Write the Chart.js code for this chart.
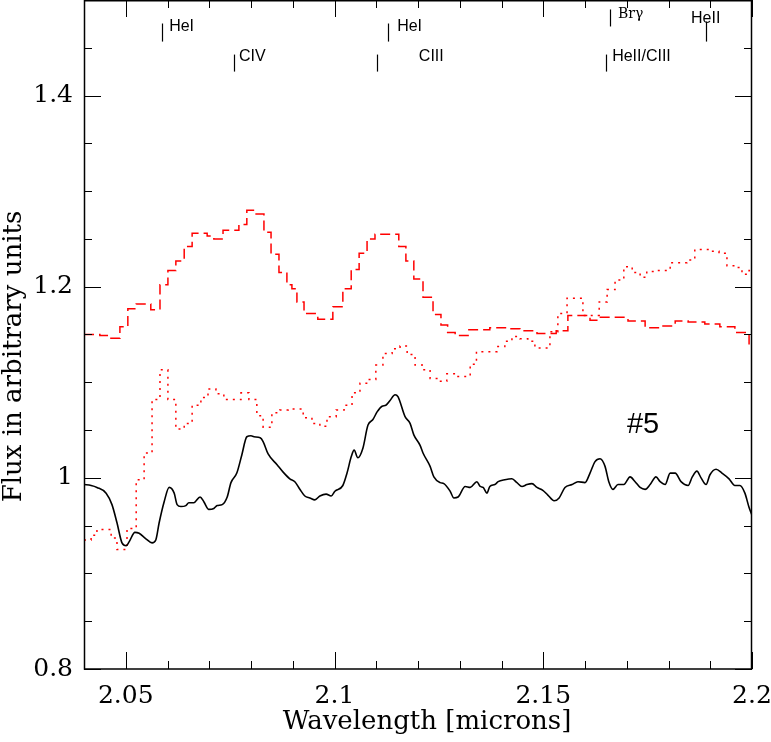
<!DOCTYPE html>
<html lang="en">
<head>
<meta charset="UTF-8">
<title>Flux #5</title>
<script src="https://cdn.jsdelivr.net/npm/chart.js"></script>
<style>
  html, body { margin: 0; padding: 0; background: #fff; }
</style>
</head>
<body>
<canvas id="myChart" width="771" height="742"></canvas>
<script>
// observed spectrum (black solid)
const waveObs = [2.0400, 2.0417, 2.0431, 2.0453, 2.0467, 2.0479, 2.0491, 2.0501, 2.0508, 2.0522,
  2.0532, 2.0549, 2.0563, 2.0572, 2.0580, 2.0592, 2.0604, 2.0616, 2.0623, 2.0632,
  2.0644, 2.0651, 2.0663, 2.0678, 2.0687, 2.0699, 2.0711, 2.0719, 2.0731, 2.0743,
  2.0752, 2.0766, 2.0778, 2.0790, 2.0800, 2.0807, 2.0822, 2.0829, 2.0841, 2.0862,
  2.0877, 2.0893, 2.0905, 2.0917, 2.0929, 2.0941, 2.0953, 2.0965, 2.0980, 2.0992,
  2.1001, 2.1020, 2.1030, 2.1040, 2.1047, 2.1056, 2.1068, 2.1080, 2.1092, 2.1102,
  2.1114, 2.1123, 2.1133, 2.1145, 2.1152, 2.1169, 2.1181, 2.1190, 2.1205, 2.1212,
  2.1229, 2.1238, 2.1253, 2.1262, 2.1277, 2.1286, 2.1296, 2.1313, 2.1325, 2.1341,
  2.1349, 2.1356, 2.1365, 2.1372, 2.1384, 2.1392, 2.1408, 2.1425, 2.1437, 2.1449,
  2.1461, 2.1473, 2.1485, 2.1499, 2.1511, 2.1526, 2.1538, 2.1552, 2.1569, 2.1583,
  2.1600, 2.1612, 2.1624, 2.1636, 2.1648, 2.1657, 2.1667, 2.1679, 2.1693, 2.1708,
  2.1720, 2.1732, 2.1744, 2.1756, 2.1770, 2.1780, 2.1792, 2.1804, 2.1816, 2.1830,
  2.1847, 2.1857, 2.1868, 2.1878, 2.1890, 2.1899, 2.1914, 2.1928, 2.1945, 2.1959,
  2.1971, 2.1983, 2.1993, 2.2000];
const fluxObs = [0.993, 0.992, 0.990, 0.984, 0.972, 0.953, 0.932, 0.929, 0.933, 0.943,
  0.942, 0.936, 0.932, 0.935, 0.953, 0.975, 0.990, 0.984, 0.972, 0.970,
  0.971, 0.974, 0.974, 0.980, 0.975, 0.967, 0.968, 0.971, 0.972, 0.980,
  0.995, 1.005, 1.024, 1.043, 1.044, 1.043, 1.042, 1.038, 1.025, 1.014,
  1.006, 0.999, 0.996, 0.988, 0.981, 0.979, 0.977, 0.981, 0.983, 0.981,
  0.986, 0.992, 1.005, 1.022, 1.029, 1.021, 1.031, 1.055, 1.061, 1.069,
  1.075, 1.076, 1.081, 1.087, 1.085, 1.064, 1.057, 1.045, 1.034, 1.026,
  1.012, 1.001, 0.995, 0.994, 0.986, 0.979, 0.980, 0.991, 0.990, 0.996,
  0.991, 0.990, 0.984, 0.991, 0.993, 0.996, 0.998, 0.999, 0.995, 0.991,
  0.993, 0.994, 0.990, 0.987, 0.982, 0.976, 0.979, 0.990, 0.993, 0.996,
  0.995, 1.005, 1.017, 1.020, 1.012, 0.996, 0.988, 0.993, 0.993, 1.001,
  0.996, 0.990, 0.988, 0.993, 1.001, 0.996, 0.993, 1.005, 1.005, 0.996,
  0.992, 1.001, 1.007, 1.000, 0.993, 1.003, 1.009, 1.005, 0.999, 0.992,
  0.992, 0.984, 0.969, 0.961];

// model 1 (red dashed histogram), bin left edges
const waveDash = [2.0400, 2.0438, 2.0460, 2.0486, 2.0505, 2.0525, 2.0560, 2.0582, 2.0601, 2.0620,
  2.0640, 2.0659, 2.0695, 2.0711, 2.0733, 2.0771, 2.0790, 2.0810, 2.0831, 2.0848,
  2.0867, 2.0886, 2.0898, 2.0910, 2.0927, 2.0960, 2.0996, 2.1020, 2.1040, 2.1059,
  2.1078, 2.1097, 2.1154, 2.1171, 2.1190, 2.1212, 2.1236, 2.1255, 2.1271, 2.1289,
  2.1320, 2.1372, 2.1413, 2.1444, 2.1485, 2.1531, 2.1559, 2.1612, 2.1631, 2.1703,
  2.1744, 2.1780, 2.1816, 2.1847, 2.1887, 2.1923, 2.1959, 2.1993, 2.2000];
const fluxDash = [1.150, 1.149, 1.146, 1.158, 1.177, 1.182, 1.176, 1.202, 1.217, 1.227,
  1.242, 1.256, 1.253, 1.250, 1.259, 1.265, 1.280, 1.276, 1.257, 1.234,
  1.215, 1.202, 1.198, 1.184, 1.172, 1.166, 1.179, 1.198, 1.218, 1.235,
  1.250, 1.255, 1.242, 1.227, 1.208, 1.189, 1.171, 1.160, 1.152, 1.149,
  1.155, 1.157, 1.156, 1.154, 1.151, 1.154, 1.170, 1.165, 1.168, 1.164,
  1.157, 1.159, 1.164, 1.163, 1.161, 1.158, 1.152, 1.139, 1.139];

// model 2 (red dotted histogram), bin left edges
const waveDot = [2.0400, 2.0417, 2.0431, 2.0465, 2.0479, 2.0503, 2.0525, 2.0544, 2.0563, 2.0582,
  2.0601, 2.0620, 2.0640, 2.0659, 2.0680, 2.0697, 2.0716, 2.0735, 2.0776, 2.0795,
  2.0814, 2.0829, 2.0850, 2.0869, 2.0889, 2.0925, 2.0946, 2.0965, 2.0982, 2.1004,
  2.1023, 2.1042, 2.1061, 2.1080, 2.1099, 2.1116, 2.1138, 2.1157, 2.1174, 2.1193,
  2.1212, 2.1229, 2.1248, 2.1269, 2.1289, 2.1325, 2.1340, 2.1389, 2.1408, 2.1425,
  2.1444, 2.1463, 2.1480, 2.1516, 2.1535, 2.1557, 2.1595, 2.1634, 2.1653, 2.1672,
  2.1693, 2.1713, 2.1732, 2.1748, 2.1772, 2.1804, 2.1844, 2.1863, 2.1897, 2.1921,
  2.1940, 2.1959, 2.1976, 2.1993, 2.2000];
const fluxDot = [0.935, 0.940, 0.946, 0.937, 0.925, 0.947, 0.998, 1.026, 1.082, 1.113,
  1.082, 1.051, 1.057, 1.076, 1.084, 1.093, 1.088, 1.082, 1.089, 1.082,
  1.065, 1.053, 1.068, 1.071, 1.072, 1.063, 1.057, 1.054, 1.064, 1.071,
  1.076, 1.089, 1.099, 1.103, 1.118, 1.130, 1.135, 1.138, 1.129, 1.118,
  1.113, 1.104, 1.101, 1.109, 1.106, 1.119, 1.132, 1.1375, 1.143, 1.148,
  1.1455, 1.143, 1.136, 1.153, 1.172, 1.188, 1.170, 1.184, 1.197, 1.207,
  1.221, 1.215, 1.210, 1.216, 1.217, 1.225, 1.228, 1.239, 1.237, 1.235,
  1.222, 1.220, 1.213, 1.217, 1.217];

const xTicks = [2.05, 2.1, 2.15, 2.2];
const yTicks = [0.8, 1, 1.2, 1.4];

// line identifications: tick wavelength, tick top/bottom flux, label start wavelength, label flux
const lineNames = ['HeI', 'CIV', 'CIII', 'HeI', 'Br\u03b3', 'HeII/CIII', 'HeII'];
const lineWave = [2.0586, 2.0759, 2.1101, 2.1127, 2.1660, 2.1650, 2.1890];
const lineTop = [1.4754, 1.4429, 1.4429, 1.4754, 1.4901, 1.4429, 1.4775];
const lineBottom = [1.4565, 1.4251, 1.4251, 1.4565, 1.4723, 1.4251, 1.4565];
const labelWave = [2.0604, 2.0771, 2.1202, 2.1150, 2.1679, 2.1665, 2.1854];
const labelFlux = [1.4717, 1.4408, 1.4408, 1.4717, 1.4848, 1.4408, 1.4806];

const starName = '#5';
const starWave = 2.1739;
const starFlux = 1.0555;

const serif = '"DejaVu Serif", serif';
const sans = '"Liberation Sans", Arial, sans-serif';

const framePlugin = {
  id: 'frameAndMarks',
  afterDraw(chart) {
    const {ctx, chartArea: a, scales: {x, y}} = chart;
    ctx.save();
    ctx.strokeStyle = '#000';
    ctx.fillStyle = '#000';

    // inward ticks on all four sides
    ctx.lineWidth = 1;
    ctx.beginPath();
    for (let i = 204; i <= 220; i++) {
      const px = Math.round(x.getPixelForValue(i / 100)) + 0.5;
      const len = i % 5 === 0 ? 17 : 8;
      ctx.moveTo(px, a.bottom); ctx.lineTo(px, a.bottom - len);
      ctx.moveTo(px, a.top); ctx.lineTo(px, a.top + len);
    }
    for (let j = 16; j <= 30; j++) {
      const py = Math.round(y.getPixelForValue(j * 0.05)) + 0.5;
      const len = j % 4 === 0 ? 17 : 8;
      ctx.moveTo(a.left, py); ctx.lineTo(a.left + len, py);
      ctx.moveTo(a.right, py); ctx.lineTo(a.right - len, py);
    }
    ctx.stroke();

    ctx.lineWidth = 1.5;
    ctx.strokeRect(a.left + 0.5, a.top + 0.75, a.right - a.left - 1, a.bottom - a.top - 0.75);

    // line identifications
    ctx.lineWidth = 1.2;
    ctx.textBaseline = 'middle';
    ctx.textAlign = 'left';
    lineNames.forEach((name, i) => {
      const px = Math.round(x.getPixelForValue(lineWave[i])) + 0.5;
      ctx.beginPath();
      ctx.moveTo(px, y.getPixelForValue(lineTop[i]));
      ctx.lineTo(px, y.getPixelForValue(lineBottom[i]));
      ctx.stroke();
      ctx.font = name.startsWith('Br') ? '14px ' + serif : '16px ' + sans;
      ctx.fillText(name, x.getPixelForValue(labelWave[i]), y.getPixelForValue(labelFlux[i]));
    });

    ctx.font = '29px ' + sans;
    ctx.textAlign = 'center';
    ctx.fillText(starName, x.getPixelForValue(starWave), y.getPixelForValue(starFlux));

    // axis titles
    ctx.font = '26px ' + serif;
    ctx.fillText('Wavelength [microns]', (a.left + a.right) / 2 + 9, a.bottom + 53);
    ctx.translate(14, (a.top + a.bottom) / 2 + 22);
    ctx.rotate(-Math.PI / 2);
    ctx.fillText('Flux in arbitrary units', 0, 0);
    ctx.restore();
  }
};

const toPoints = (w, f) => w.map((v, i) => ({x: v, y: f[i]}));

const ctx = document.getElementById('myChart').getContext('2d');
const fluxChart = new Chart(ctx, {
  type: 'line',
  data: {
    datasets: [{
      label: 'observed',
      data: toPoints(waveObs, fluxObs),
      borderColor: '#000',
      borderWidth: 1.6,
      pointRadius: 0,
      cubicInterpolationMode: 'monotone',
      fill: false
    }, {
      label: 'model dashed',
      data: toPoints(waveDash, fluxDash),
      borderColor: '#ff0000',
      borderWidth: 1.5,
      borderDash: [10, 5],
      stepped: 'before',
      pointRadius: 0,
      fill: false
    }, {
      label: 'model dotted',
      data: toPoints(waveDot, fluxDot),
      borderColor: '#ff0000',
      borderWidth: 1.5,
      borderDash: [2, 5],
      stepped: 'before',
      pointRadius: 0,
      fill: false
    }]
  },
  options: {
    responsive: false,
    animation: false,
    layout: { padding: { left: 0, right: 19, top: 0, bottom: 0 } },
    plugins: { legend: { display: false }, tooltip: { enabled: false } },
    scales: {
      x: {
        type: 'linear',
        min: 2.04,
        max: 2.2,
        grid: { display: false, drawTicks: false },
        border: { display: false },
        afterBuildTicks: s => { s.ticks = xTicks.map(v => ({ value: v })); },
        afterFit: s => {
          s.height = 73;
          s.paddingLeft = 0; s.paddingRight = 0; s.paddingTop = 0; s.paddingBottom = 0;
        },
        ticks: {
          autoSkip: false,
          maxRotation: 0,
          padding: 12,
          color: '#000',
          font: { family: serif, size: 25 },
          callback: v => String(+v.toFixed(2))
        }
      },
      y: {
        min: 0.8,
        max: 1.5,
        grid: { display: false, drawTicks: false },
        border: { display: false },
        afterBuildTicks: s => { s.ticks = yTicks.map(v => ({ value: v })); },
        afterFit: s => {
          s.width = 84;
          s.paddingLeft = 0; s.paddingRight = 0; s.paddingTop = 0; s.paddingBottom = 0;
        },
        ticks: {
          autoSkip: false,
          padding: 11,
          color: '#000',
          font: { family: serif, size: 25 },
          callback: v => String(+v.toFixed(2))
        }
      }
    }
  },
  plugins: [framePlugin]
});
</script>
</body>
</html>
